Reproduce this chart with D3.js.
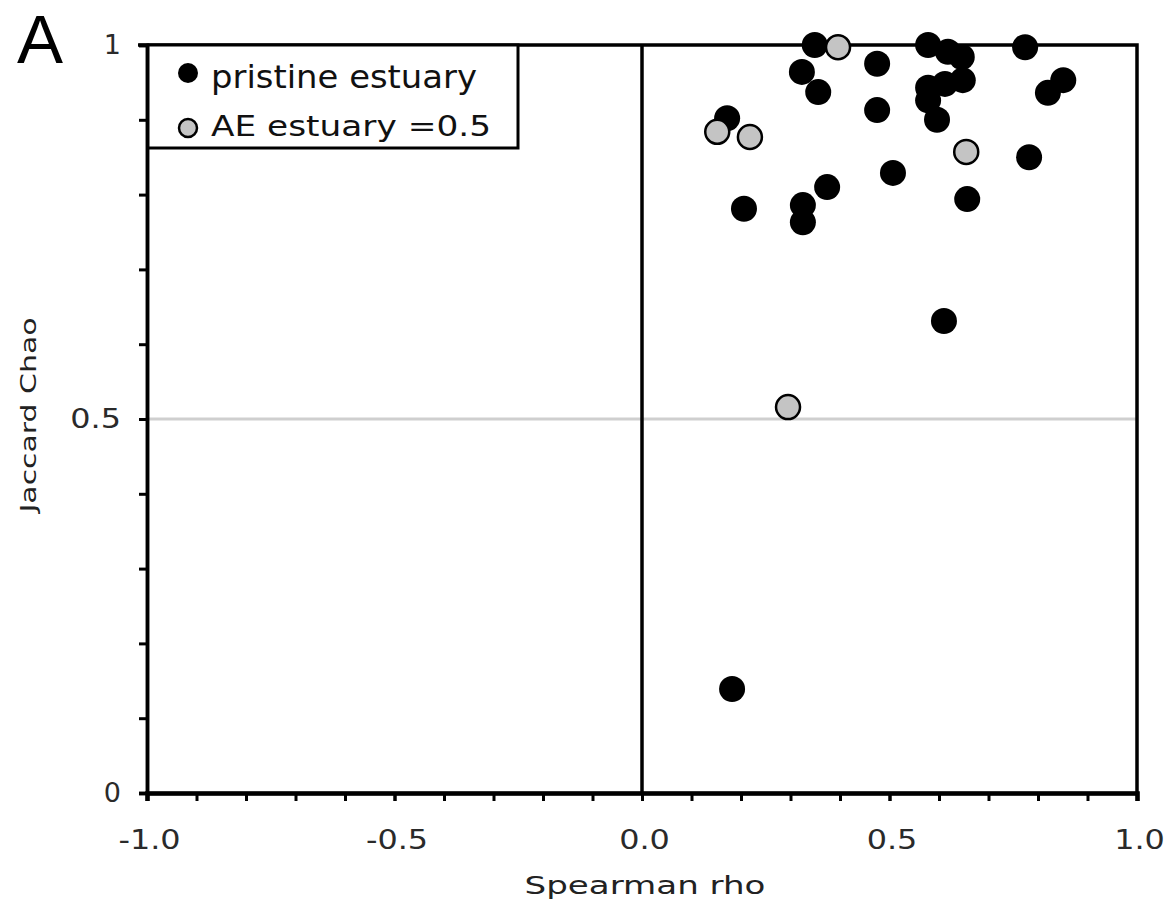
<!DOCTYPE html>
<html>
<head>
<meta charset="utf-8">
<script src="https://cdn.jsdelivr.net/npm/d3@7"></script>
<style>
  body { margin: 0; background: #fff; }
  svg { display: block; }
</style>
</head>
<body>
<div id="chart"></div>
<script>
// data: [Spearman rho, Jaccard Chao]
var pristine = [
  [0.349, 1.0], [0.475, 0.975], [0.323, 0.964], [0.356, 0.937], [0.475, 0.913],
  [0.172, 0.902], [0.578, 1.0], [0.618, 0.991], [0.646, 0.984], [0.648, 0.953],
  [0.612, 0.948], [0.578, 0.943], [0.578, 0.926], [0.596, 0.900], [0.774, 0.997],
  [0.851, 0.953], [0.820, 0.936], [0.782, 0.850], [0.507, 0.829], [0.374, 0.810],
  [0.206, 0.781], [0.325, 0.786], [0.325, 0.763], [0.657, 0.794], [0.610, 0.631],
  [0.182, 0.139]
];
var aeEstuary = [
  [0.396, 0.997], [0.152, 0.884], [0.218, 0.877], [0.655, 0.857], [0.295, 0.516]
];
var xMajor = [-1.0, -0.5, 0.0, 0.5, 1.0];
var yMajor = [0, 0.5, 1];
var legendLabels = ['pristine estuary', 'AE estuary =0.5'];

var width = 1171, height = 910;
var pLeft = 147, pRight = 1137, pTop = 45, pBottom = 793;

var x = d3.scaleLinear().domain([-1, 1]).range([pLeft, pRight]);
var y = d3.scaleLinear().domain([0, 1]).range([pBottom, pTop]);

var svg = d3.select('#chart').append('svg')
    .attr('width', width)
    .attr('height', height)
    .style('font-family', 'DejaVu Sans, Verdana, sans-serif');

// stretch a text element to a width (the picture's type is wide)
function fit(sel, w) {
  sel.attr('textLength', w).attr('lengthAdjust', 'spacingAndGlyphs');
}

// 0.5 reference line
svg.append('line')
    .attr('x1', x(-1)).attr('x2', x(1))
    .attr('y1', y(0.5)).attr('y2', y(0.5))
    .attr('stroke', '#cfcfcf').attr('stroke-width', 3);

// vertical line at rho = 0
svg.append('line')
    .attr('x1', x(0)).attr('x2', x(0))
    .attr('y1', y(1)).attr('y2', y(0))
    .attr('stroke', '#000').attr('stroke-width', 3.5);

// frame top / right
svg.append('path')
    .attr('d', 'M' + (x(-1) - 9) + ',' + y(1) + 'H' + x(1) + 'V' + y(0))
    .attr('fill', 'none').attr('stroke', '#000').attr('stroke-width', 3.5);

// minor ticks
var xMinor = d3.axisBottom(x).tickValues(d3.range(-10, 11).map(function(d){ return d / 10; }))
    .tickSize(8).tickFormat('');
var yMinor = d3.axisLeft(y).tickValues(d3.range(0, 11).map(function(d){ return d / 10; }))
    .tickSize(8).tickFormat('');

svg.append('g').attr('transform', 'translate(0,' + pBottom + ')').call(xMinor);
svg.append('g').attr('transform', 'translate(' + pLeft + ',0)').call(yMinor);

// labelled axes
var gx = svg.append('g').attr('transform', 'translate(0,' + pBottom + ')')
    .call(d3.axisBottom(x).tickValues(xMajor).tickSize(8).tickPadding(29)
      .tickFormat(function(d){ return d.toFixed(1); }));
var gy = svg.append('g').attr('transform', 'translate(' + pLeft + ',0)')
    .call(d3.axisLeft(y).tickValues(yMajor).tickSize(8).tickPadding(18)
      .tickFormat(function(d){ return String(d); }));

svg.selectAll('.domain').attr('stroke', '#000').attr('stroke-width', 3.5);
svg.selectAll('.tick line').attr('stroke', '#000').attr('stroke-width', 3);
svg.selectAll('.tick text').attr('fill', '#2a2a2a').style('font-size', '27px')
    .style('font-family', 'DejaVu Sans, Verdana, sans-serif');
gx.select('.domain').attr('stroke-width', 4.5);
gx.selectAll('.tick text').each(function(){
  var t = d3.select(this);
  t.attr('dx', '2');
  fit(t, this.getComputedTextLength() * 1.18);
});
gy.selectAll('.tick text').each(function(){
  var t = d3.select(this);
  if (this.textContent.length > 1) fit(t, this.getComputedTextLength() * 1.18);
});

// points
svg.append('g').selectAll('circle').data(pristine)
  .enter().append('circle')
    .attr('cx', function(d){ return x(d[0]); })
    .attr('cy', function(d){ return y(d[1]); })
    .attr('r', 13)
    .attr('fill', '#000');

svg.append('g').selectAll('circle').data(aeEstuary)
  .enter().append('circle')
    .attr('cx', function(d){ return x(d[0]); })
    .attr('cy', function(d){ return y(d[1]); })
    .attr('r', 12)
    .attr('fill', '#c4c4c4')
    .attr('stroke', '#000')
    .attr('stroke-width', 2.5);

// legend
var lg = svg.append('g');
lg.append('rect')
    .attr('x', pLeft + 1).attr('y', pTop)
    .attr('width', 518 - pLeft - 1).attr('height', 148 - pTop)
    .attr('fill', '#fff').attr('stroke', '#000').attr('stroke-width', 3);
lg.append('circle').attr('cx', 188).attr('cy', 73).attr('r', 10).attr('fill', '#000');
lg.append('circle').attr('cx', 188).attr('cy', 128).attr('r', 9)
    .attr('fill', '#c4c4c4').attr('stroke', '#000').attr('stroke-width', 2.5);
fit(lg.append('text').attr('x', 211).attr('y', 88).style('font-size', '32px')
    .attr('fill', '#111').text(legendLabels[0]), 266);
fit(lg.append('text').attr('x', 211).attr('y', 136).style('font-size', '29px')
    .attr('fill', '#111').text(legendLabels[1]), 280);

// axis titles
fit(svg.append('text').attr('x', 645).attr('y', 894).attr('text-anchor', 'middle')
    .style('font-size', '25px').attr('fill', '#222').text('Spearman rho'), 241);
fit(svg.append('text').attr('transform', 'translate(36,415) rotate(-90)')
    .attr('text-anchor', 'middle').style('font-size', '22px').attr('fill', '#222')
    .text('Jaccard Chao'), 195);

// panel letter
svg.append('text').attr('x', 17).attr('y', 63)
    .style('font-family', 'Liberation Sans, Arial, sans-serif')
    .style('font-size', '69px').attr('fill', '#000').text('A');
</script>
</body>
</html>
